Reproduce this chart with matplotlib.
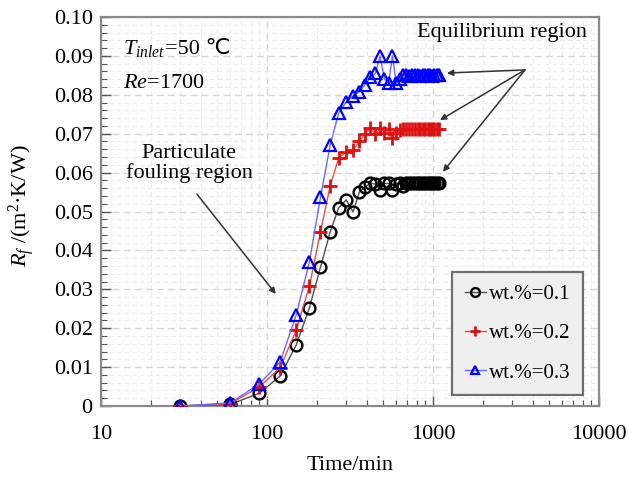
import matplotlib
matplotlib.use("Agg")
import matplotlib.pyplot as plt
from matplotlib.ticker import MultipleLocator, LogLocator, NullFormatter

plt.rcParams['font.family'] = ['Liberation Serif', 'DejaVu Serif', 'DejaVu Sans']
plt.rcParams['mathtext.fontset'] = 'custom'
plt.rcParams['mathtext.rm'] = 'Liberation Serif'
plt.rcParams['mathtext.it'] = 'Liberation Serif:italic'

# ---- data ----
time_min = [30, 60, 90, 120, 150, 180, 210, 240, 270, 300, 330, 360, 390, 420,
            450, 480, 510, 540, 570, 600, 630, 660, 690, 720, 750, 780, 810,
            840, 870, 900, 930, 960, 990, 1020, 1050, 1080]
rf_01 = [0.0, 0.0004, 0.0033, 0.0077, 0.0157, 0.0252, 0.0357, 0.0447, 0.0509,
         0.0530, 0.0499, 0.0550, 0.0563, 0.0573, 0.0570, 0.0556, 0.0572, 0.0572,
         0.0556, 0.0571, 0.0572, 0.0566, 0.0572, 0.0572, 0.0572, 0.0573, 0.0572,
         0.0572, 0.0572, 0.0573, 0.0572, 0.0572, 0.0572, 0.0573, 0.0572, 0.0572]
rf_02 = [0.0, 0.0006, 0.0049, 0.0098, 0.0195, 0.0308, 0.0447, 0.0565, 0.0637,
         0.0653, 0.0658, 0.0680, 0.0700, 0.0714, 0.0698, 0.0714, 0.0702, 0.0712,
         0.0690, 0.0702, 0.0710, 0.0712, 0.0712, 0.0713, 0.0712, 0.0712, 0.0713,
         0.0712, 0.0712, 0.0712, 0.0713, 0.0712, 0.0712, 0.0712, 0.0713, 0.0712]
rf_03 = [0.0, 0.0008, 0.0057, 0.0113, 0.0234, 0.0370, 0.0536, 0.0670, 0.0752,
         0.0782, 0.0797, 0.0808, 0.0826, 0.0845, 0.0855, 0.0900, 0.0840, 0.0830,
         0.0900, 0.0830, 0.0840, 0.0850, 0.0850, 0.0848, 0.0850, 0.0850, 0.0850,
         0.0849, 0.0850, 0.0850, 0.0850, 0.0850, 0.0849, 0.0850, 0.0850, 0.0850]
labels = ['wt.%=0.1', 'wt.%=0.2', 'wt.%=0.3']
x_ticks = [10, 100, 1000, 10000]
x_ticklabels = ['10', '100', '1000', '10000']
y_ticks = [0, 0.01, 0.02, 0.03, 0.04, 0.05, 0.06, 0.07, 0.08, 0.09, 0.10]
y_ticklabels = ['0', '0.01', '0.02', '0.03', '0.04', '0.05', '0.06', '0.07',
                '0.08', '0.09', '0.10']

fig = plt.figure(figsize=(6.3, 4.79), dpi=100)
ax = fig.add_axes([0.1603, 0.1524, 0.7905, 0.8121])

ax.plot(time_min, rf_01, color='#505050', lw=1.0, marker='o', ms=8.5,
        mfc='none', mec='black', mew=1.7, label=labels[0], zorder=3)
ax.plot(time_min, rf_02, color='#e05050', lw=1.0, marker='+', ms=10,
        mec='#dd1111', mew=2.0, label=labels[1], zorder=4)
ax.plot(time_min, rf_03, color='#6a6aff', lw=1.0, marker='^', ms=8,
        mfc='none', mec='#0000ff', mew=1.6, label=labels[2], zorder=5)

ax.set_xscale('log')
ax.set_xlim(10, 10000)
ax.set_ylim(0, 0.10)
ax.set_xticks(x_ticks)
ax.set_xticklabels(x_ticklabels)
ax.xaxis.set_minor_locator(LogLocator(base=10, subs=range(2, 10)))
ax.xaxis.set_minor_formatter(NullFormatter())
ax.set_yticks(y_ticks)
ax.set_yticklabels(y_ticklabels)
ax.yaxis.set_minor_locator(MultipleLocator(0.002))

ax.tick_params(which='both', direction='in', colors='#555555', labelcolor='black',
               labelsize=16)
ax.tick_params(which='major', length=7, width=1.0)
ax.tick_params(which='minor', length=4, width=0.8)
ax.tick_params(axis='y', pad=6)
ax.tick_params(axis='x', pad=14)

ax.grid(which='major', linestyle=(0, (5, 3)), color='#d6d6d6', lw=1.0)
ax.grid(which='minor', linestyle=(0, (4, 3)), color='#ececec', lw=0.8)
ax.set_axisbelow(True)

for s in ax.spines.values():
    s.set_color('#8a8a8a')
    s.set_linewidth(1.6)

ax.set_xlabel('Time/min', fontsize=16, labelpad=8)
ax.set_ylabel(r'$R_f$ /(m$^2$·K/W)', fontsize=16)
ax.yaxis.set_label_coords(-0.128, 0.515)

leg = ax.legend(loc='lower right', bbox_to_anchor=(0.968, 0.028), fontsize=15,
                frameon=True, fancybox=False, framealpha=1, handlelength=1.0,
                handletextpad=0.15, labelspacing=0.95, borderpad=0.6,
                markerscale=0.75, borderaxespad=0)
leg.get_frame().set_facecolor('#efefef')
leg.get_frame().set_edgecolor('#6f6f6f')
leg.get_frame().set_linewidth(1.6)

# annotations
t1 = ax.text(0.044, 0.905, r'$T_{inlet}$', transform=ax.transAxes,
             fontsize=16, va='baseline', ha='left')
ax.annotate('=50 ℃', xy=(1.0, 0.905), xycoords=(t1, ax.transAxes),
            fontsize=16, va='baseline', ha='left',
            family=['Liberation Serif', 'DejaVu Sans'])
ax.text(0.044, 0.830, r'$Re$=1700', transform=ax.transAxes,
        fontsize=16, va='center', ha='left')
ax.text(0.177, 0.623, 'Particulate\nfouling region', transform=ax.transAxes,
        fontsize=16, va='center', ha='center', linespacing=1.0)
ax.text(0.805, 0.959, 'Equilibrium region', transform=ax.transAxes,
        fontsize=16, va='center', ha='center')

arrow_kw = dict(arrowstyle='-|>', color='#333333', lw=1.1, mutation_scale=9,
                shrinkA=0, shrinkB=0)
ax.annotate('', xy=(113, 0.0288), xytext=(37.8, 0.0545), arrowprops=arrow_kw)
for tip in [(1213, 0.0856), (1102, 0.0735), (1148, 0.0602)]:
    ax.annotate('', xy=tip, xytext=(3581, 0.0864), arrowprops=arrow_kw)

fig.savefig('out.png', dpi=100)
